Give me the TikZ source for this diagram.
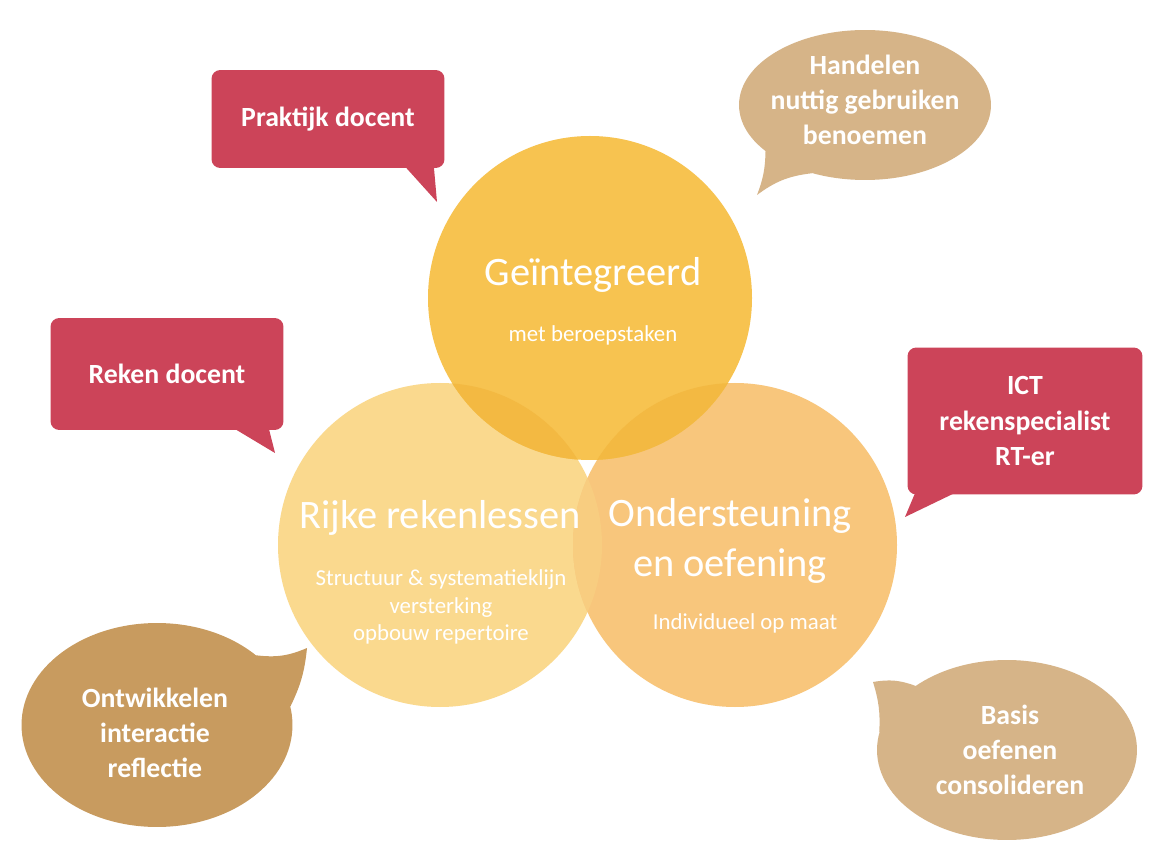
\documentclass[tikz,border=0pt]{standalone}
\usepackage{fontspec}
\setmainfont{Carlito}
\usepackage{tikz}
\usetikzlibrary{positioning}
\usetikzlibrary{shapes.geometric}
\usetikzlibrary{calc}
\definecolor{rood}{RGB}{204,68,89}
\definecolor{tandark}{RGB}{200,155,95}
\definecolor{tanlight}{RGB}{214,180,136}
\definecolor{goud}{RGB}{247,195,80}
\definecolor{goudkant}{RGB}{243,185,66}
\definecolor{geellicht}{RGB}{250,217,142}
\definecolor{perzik}{RGB}{248,198,124}
\definecolor{perzikmix}{RGB}{248,205,128}
\tikzstyle{rolebox}=[rectangle,rounded corners=5pt,fill=rood,text=white,align=center,font=\fontsize{15.8}{20}\selectfont\bfseries]
\tikzstyle{wolk}=[ellipse,inner sep=0pt]
\tikzstyle{wolktekst}=[text=white,align=center,font=\fontsize{15.8}{20}\selectfont\bfseries]
\tikzstyle{titel}=[text=white,align=center,font=\fontsize{23}{28}\selectfont]
\tikzstyle{sub}=[text=white,align=center,font=\fontsize{13}{15.5}\selectfont]

\begin{document}
\begin{tikzpicture}[x=0.02cm,y=-0.02cm]

  \path[use as bounding box, fill=white] (0,0) rectangle (1150,844);

  % de drie cirkels
  \def\r{162}
  \coordinate (top) at (590,298);
  \coordinate (links) at (440,545);
  \coordinate (rechts) at (735,545);
  \fill[geellicht] (links) circle (\r);
  \fill[perzik] (rechts) circle (\r);
  \begin{scope}
    \clip (links) circle (\r);
    \fill[perzikmix] (rechts) circle (\r);
  \end{scope}
  \fill[goud] (top) circle (\r);
  \begin{scope}
    \clip (top) circle (\r);
    \foreach \c in {links, rechts}
      \fill[goudkant] (\c) circle (\r);
  \end{scope}

  \node[titel] (gtitel) at (593,275) {Geïntegreerd};
  \node[sub] (gsub) at (593,335) {met beroepstaken};
  \node[titel] (rtitel) at (440,518) {Rijke rekenlessen};
  \node[sub] (rsub) at (441,607) {Structuur \& systematieklijn\\versterking\\opbouw repertoire};
  \node[titel] (otitel) at (730,541) {Ondersteuning\\en oefening};
  \node[sub] (osub) at (745,623) {Individueel op maat};

  % rode kaders
  \node[rolebox, minimum width=4.66cm, minimum height=1.96cm] (prak) at (328,119) {Praktijk docent};
  \node[rolebox, minimum width=4.66cm, minimum height=2.24cm] (reken) at (167,374) {Reken docent};
  \node[rolebox, minimum width=4.7cm, minimum height=2.94cm] (ict) at (1025,421) {ICT\\rekenspecialist\\RT-er};

  \coordinate (praktip) at (437,202);
  \coordinate (rekentip) at (275,453);
  \coordinate (icttip) at (905,517);
  \fill[rood] ($(prak.south east)+(-40,-2)$) -- (praktip) -- ($(prak.south east)+(-11,-2)$) -- cycle;
  \fill[rood] ($(reken.south east)+(-50,-2)$) -- (rekentip) -- ($(reken.south east)+(-15,-2)$) -- cycle;
  \fill[rood] ($(ict.south west)+(8,-2)$) -- (icttip) -- ($(ict.south west)+(48,-2)$) -- cycle;

  % wolkjes
  \node[wolk, fill=tanlight, minimum width=5.04cm, minimum height=3cm] (hand) at (865,105) {};
  \node[wolk, fill=tandark, minimum width=5.42cm, minimum height=4.08cm] (ontw) at (157,725) {};
  \node[wolk, fill=tanlight, minimum width=5.2cm, minimum height=3.6cm] (basis) at (1007,750) {};

  \coordinate (handtip) at (757,195);
  \coordinate (ontwtip) at (307,648);
  \coordinate (basistip) at (873,682);
  \fill[tanlight] (hand.205) to[bend left=10] (handtip) to[bend left=15] (hand.232) -- (hand.center) -- cycle;
  \fill[tandark] (ontw.35) to[bend right=15] (ontwtip) to[bend left=10] (ontw.8) -- (ontw.center) -- cycle;
  \fill[tanlight] (basis.145) to[bend right=15] (basistip) to[bend left=10] (basis.172) -- (basis.center) -- cycle;

  \node[wolktekst] (handtxt) at (865,100) {Handelen\\nuttig gebruiken\\benoemen};
  \node[wolktekst] (ontwtxt) at (155,733) {Ontwikkelen\\interactie\\reflectie};
  \node[wolktekst] (basistxt) at (1010,750) {Basis\\oefenen\\consolideren};

\end{tikzpicture}
\end{document}
